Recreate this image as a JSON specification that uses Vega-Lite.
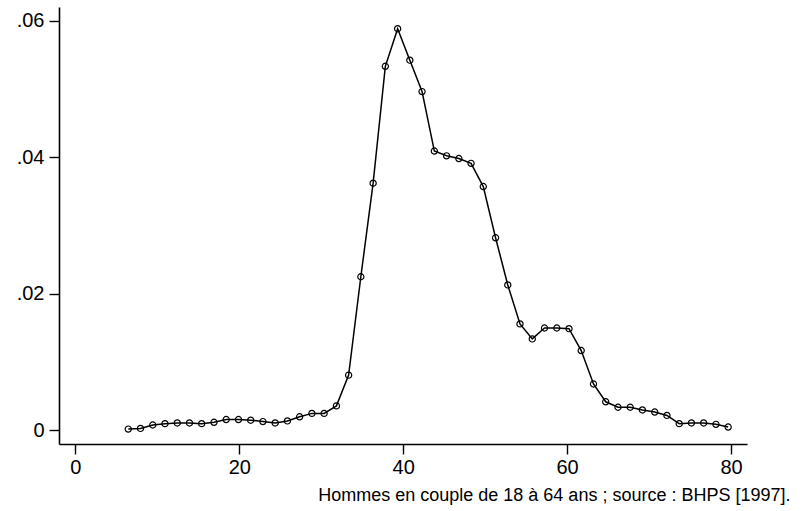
{
  "$schema": "https://vega.github.io/schema/vega-lite/v6.json",
  "autosize": "none",
  "width": 688,
  "height": 437,
  "padding": {"left": 59, "top": 7, "right": 57, "bottom": 67},
  "background": "white",
  "config": {
    "view": {"stroke": null},
    "font": "Liberation Sans"
  },
  "data": {
    "values": [
      {"x": 6.45, "y": 0.0002},
      {"x": 7.94, "y": 0.0003},
      {"x": 9.44, "y": 0.0008},
      {"x": 10.93, "y": 0.0010},
      {"x": 12.43, "y": 0.0011},
      {"x": 13.92, "y": 0.0011},
      {"x": 15.41, "y": 0.0010},
      {"x": 16.91, "y": 0.0012},
      {"x": 18.40, "y": 0.0016},
      {"x": 19.90, "y": 0.0016},
      {"x": 21.39, "y": 0.0015},
      {"x": 22.88, "y": 0.0013},
      {"x": 24.38, "y": 0.0011},
      {"x": 25.87, "y": 0.0014},
      {"x": 27.36, "y": 0.0020},
      {"x": 28.86, "y": 0.0025},
      {"x": 30.35, "y": 0.0025},
      {"x": 31.85, "y": 0.0036},
      {"x": 33.34, "y": 0.0081},
      {"x": 34.83, "y": 0.0225},
      {"x": 36.33, "y": 0.0362},
      {"x": 37.82, "y": 0.0533},
      {"x": 39.32, "y": 0.0588},
      {"x": 40.81, "y": 0.0542},
      {"x": 42.30, "y": 0.0496},
      {"x": 43.80, "y": 0.0409},
      {"x": 45.29, "y": 0.0402},
      {"x": 46.79, "y": 0.0398},
      {"x": 48.28, "y": 0.0391},
      {"x": 49.77, "y": 0.0357},
      {"x": 51.27, "y": 0.0282},
      {"x": 52.76, "y": 0.0213},
      {"x": 54.25, "y": 0.0156},
      {"x": 55.75, "y": 0.0134},
      {"x": 57.24, "y": 0.0150},
      {"x": 58.74, "y": 0.0150},
      {"x": 60.23, "y": 0.0149},
      {"x": 61.72, "y": 0.0117},
      {"x": 63.22, "y": 0.0068},
      {"x": 64.71, "y": 0.0042},
      {"x": 66.21, "y": 0.0034},
      {"x": 67.70, "y": 0.0034},
      {"x": 69.19, "y": 0.0030},
      {"x": 70.69, "y": 0.0027},
      {"x": 72.18, "y": 0.0022},
      {"x": 73.68, "y": 0.0010},
      {"x": 75.17, "y": 0.0011},
      {"x": 76.66, "y": 0.0011},
      {"x": 78.16, "y": 0.0009},
      {"x": 79.65, "y": 0.0005}
    ]
  },
  "encoding": {
    "x": {
      "field": "x",
      "type": "quantitative",
      "scale": {"domain": [-2.0, 81.95], "nice": false, "zero": false},
      "axis": {
        "values": [0, 20, 40, 60, 80],
        "grid": false,
        "domainColor": "black",
        "domainWidth": 1.6,
        "tickColor": "black",
        "tickWidth": 1.4,
        "tickSize": 10,
        "labelFontSize": 20,
        "labelColor": "black",
        "labelPadding": 3,
        "title": "Hommes en couple de 18 à 64 ans ; source : BHPS [1997].",
        "titleFontSize": 18,
        "titleFontWeight": "normal",
        "titleColor": "black",
        "titleAlign": "right",
        "titleAnchor": null,
        "titleX": 731,
        "titleY": 56,
        "titleBaseline": "alphabetic"
      }
    },
    "y": {
      "field": "y",
      "type": "quantitative",
      "scale": {"domain": [-0.00198, 0.06198], "nice": false, "zero": false},
      "axis": {
        "values": [0, 0.02, 0.04, 0.06],
        "labelExpr": "datum.value == 0 ? '0' : replace(format(datum.value, '.2f'), '0.', '.')",
        "grid": false,
        "domainColor": "black",
        "domainWidth": 1.6,
        "tickColor": "black",
        "tickWidth": 1.4,
        "tickSize": 10,
        "labelFontSize": 20,
        "labelColor": "black",
        "labelPadding": 5,
        "title": null
      }
    }
  },
  "layer": [
    {"mark": {"type": "line", "color": "black", "strokeWidth": 1.5}},
    {"mark": {"type": "point", "shape": "circle", "filled": false, "color": "black", "size": 38, "strokeWidth": 1.2, "opacity": 1}}
  ]
}
